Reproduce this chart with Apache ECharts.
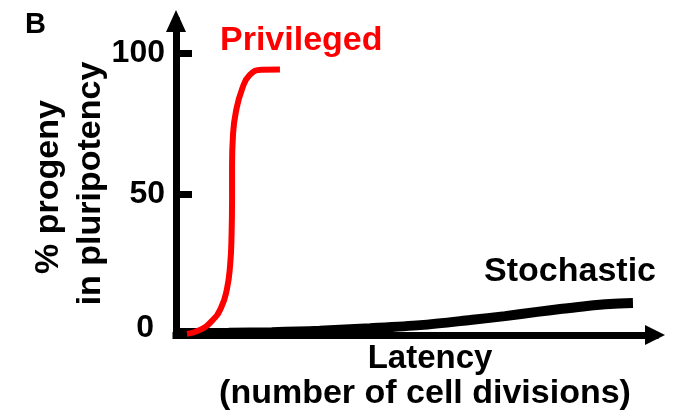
<!DOCTYPE html>
<html>
<head>
<meta charset="utf-8">
<script src="https://cdn.jsdelivr.net/npm/echarts@6/dist/echarts.min.js"></script>
<style>
  html, body { margin: 0; padding: 0; background: #fff; }
  #chart { width: 675px; height: 417px; }
</style>
</head>
<body>
<div id="chart"></div>
<script>
// Latency (arbitrary units of cell divisions) vs % progeny in pluripotency
const privilegedX = [2.3, 5.0, 7.5, 9.4, 10.6, 11.3, 11.6, 11.7, 11.7, 11.9, 12.5, 13.8, 15.4, 17.9, 21.7];
const privilegedY = [0.4, 1.8, 5.0, 9.6, 16.0, 24.8, 35.5, 47.9, 60.3, 70.9, 79.1, 87.2, 92.2, 94.0, 94.1];

const stochasticX = [0.4, 11, 20, 30, 40.5, 51, 61.4, 68.7, 75.4, 80.2, 85.8, 90.6, 95.4];
const stochasticY = [0.7, 0.8, 1.0, 1.5, 2.4, 3.5, 5.3, 6.7, 8.2, 9.2, 10.3, 11.0, 11.3];

const yTicks = [0, 50, 100];

const FONT = "'Liberation Sans', Arial, Helvetica, sans-serif";

const zip = (xs, ys) => xs.map((x, i) => [x, ys[i]]);

const chart = echarts.init(document.getElementById('chart'), null, { renderer: 'canvas' });

chart.setOption({
  animation: false,
  backgroundColor: '#ffffff',
  grid: { left: 176, right: 20, top: 21, bottom: 82 },
  xAxis: {
    type: 'value',
    min: 0,
    max: 100,
    axisLine: {
      show: true,
      symbol: ['none', 'triangle'],
      symbolSize: [20, 20],
      lineStyle: { color: '#000', width: 7, cap: 'square' }
    },
    axisTick: { show: false },
    axisLabel: { show: false },
    splitLine: { show: false }
  },
  yAxis: {
    type: 'value',
    min: 0,
    max: 111.3,
    axisLine: {
      show: true,
      symbol: ['none', 'triangle'],
      symbolSize: [20, 22],
      lineStyle: { color: '#000', width: 7, cap: 'square' }
    },
    axisTick: {
      show: true,
      inside: true,
      length: 16,
      customValues: yTicks,
      lineStyle: { color: '#000', width: 7 }
    },
    axisLabel: {
      show: true,
      customValues: yTicks,
      margin: 11,
      color: '#000',
      fontFamily: FONT,
      fontWeight: 'bold',
      fontSize: 32,
      formatter: v => (v === 0 ? '{z|0}' : String(v)),
      rich: {
        z: {
          color: '#000',
          fontFamily: FONT,
          fontWeight: 'bold',
          fontSize: 32,
          padding: [0, 11, 14, 0]
        }
      }
    },
    splitLine: { show: false }
  },
  series: [
    {
      name: 'Stochastic',
      type: 'line',
      data: zip(stochasticX, stochasticY),
      smooth: 0.3,
      showSymbol: false,
      lineStyle: { color: '#000', width: 10, cap: 'butt' },
      z: 3
    },
    {
      name: 'Privileged',
      type: 'line',
      data: zip(privilegedX, privilegedY),
      smooth: 0.5,
      showSymbol: false,
      lineStyle: { color: '#ff0000', width: 6, cap: 'butt' },
      z: 4
    }
  ],
  graphic: [
    {
      type: 'text', x: 25, y: 25,
      style: { text: 'B', fill: '#000', font: `bold 29px ${FONT}`, align: 'left', verticalAlign: 'middle' }
    },
    {
      type: 'text', x: 220, y: 41,
      style: { text: 'Privileged', fill: '#ff0000', font: `bold 34px ${FONT}`, align: 'left', verticalAlign: 'middle' }
    },
    {
      type: 'text', x: 656, y: 272,
      style: { text: 'Stochastic', fill: '#000', font: `bold 34px ${FONT}`, align: 'right', verticalAlign: 'middle' }
    },
    {
      type: 'text', x: 430, y: 358.5,
      style: { text: 'Latency', fill: '#000', font: `bold 33px ${FONT}`, align: 'center', verticalAlign: 'middle' }
    },
    {
      type: 'text', x: 425, y: 394,
      style: { text: '(number of cell divisions)', fill: '#000', font: `bold 34px ${FONT}`, align: 'center', verticalAlign: 'middle' }
    },
    {
      type: 'text', x: 49, y: 187, rotation: Math.PI / 2,
      style: { text: '% progeny', fill: '#000', font: `bold 34px ${FONT}`, align: 'center', verticalAlign: 'middle' }
    },
    {
      type: 'text', x: 91, y: 183.5, rotation: Math.PI / 2,
      style: { text: 'in pluripotency', fill: '#000', font: `bold 34px ${FONT}`, align: 'center', verticalAlign: 'middle' }
    }
  ]
});
</script>
</body>
</html>
